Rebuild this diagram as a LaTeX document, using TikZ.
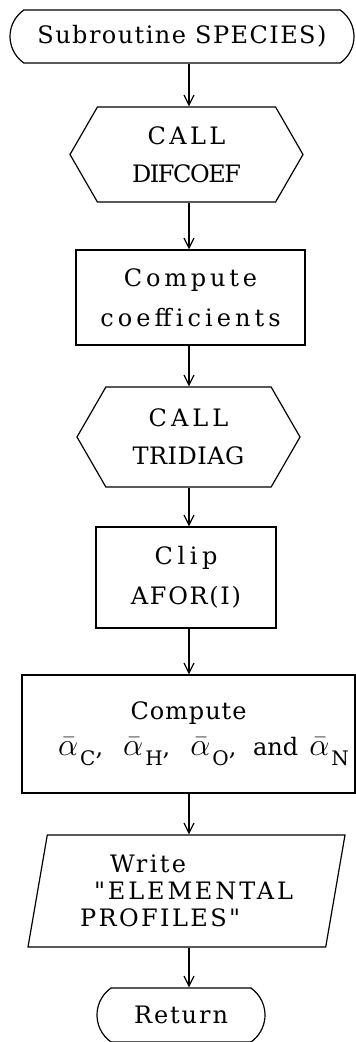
\RequirePackage{fix-cm}
\documentclass[tikz,border=0pt]{standalone}
\usepackage{fontspec}
\setmainfont{DejaVu Serif}[Ligatures=TeXOff]
\usetikzlibrary{shapes.misc, shapes.symbols, shapes.geometric, arrows.meta}
% letter spaced text, as the typist's line
\newcommand{\tracked}[2]{{\addfontfeature{LetterSpace=#1}#2}}
% barred alpha with a big subscript
\newcommand{\asub}[1]{{\fontsize{32}{32}\selectfont$\bar{\alpha}$}%
  \kern2pt\raisebox{-10pt}{\fontsize{20}{20}\selectfont #1}}
\tikzset{
  font=\fontsize{24}{40}\selectfont,
  % Set arrowhead
  >={Straight Barb[length=10pt, width=10pt]},
  % Flow lines
  flow/.style={->, line width=1.2pt},
  % Start and end
  term/.style={draw, line width=1.2pt, shape=rounded rectangle,
    rounded rectangle arc length=110, inner sep=0pt},
  % Subroutine call
  call/.style={draw, line width=1.2pt, shape=signal,
    signal to=east and west, signal pointer angle=120, inner sep=0pt,
    align=center, font=\fontsize{24}{38}\selectfont},
  % Process box
  proc/.style={draw, line width=1.2pt, shape=rectangle, inner sep=0pt,
    align=center},
  % Output
  io/.style={draw, line width=1.2pt, shape=trapezium,
    trapezium left angle=75, trapezium right angle=105,
    trapezium stretches body, inner sep=0pt, align=left},
}
\begin{document}
\begin{tikzpicture}
  \useasboundingbox (0,0) rectangle (356pt,-1042pt);

  % line of the flow arrows
  \coordinate (axis) at (189pt,0);

  \node[term, minimum width=344pt, minimum height=53pt] (start)
  at (182pt,-36.5pt) {\tracked{6}{Subroutine SPECIES)}};
  \node[call, minimum width=233pt, minimum height=95pt] (difcoef)
  at (186.5pt,-154.5pt) {\tracked{14}{CALL}\\\tracked{-6}{DIFCOEF}};
  \node[proc, minimum width=229pt, minimum height=95pt] (coef)
  at (190.5pt,-297.5pt) {\tracked{16}{Compute}\\\tracked{17}{coefficients}};
  \node[call, minimum width=223pt, minimum height=100pt] (tridiag)
  at (188.5pt,-437pt) {\tracked{17}{CALL}\\\tracked{2}{TRIDIAG}};
  \node[proc, minimum width=180pt, minimum height=101pt] (clip)
  at (186pt,-577.5pt) {\tracked{19}{Clip}\\\tracked{7}{AFOR(I)}};
  \node[proc, minimum width=333pt, minimum height=118pt] (alpha)
  at (188.5pt,-734pt) {\tracked{4}{Compute}\\[-4pt]
    \hspace*{30pt}\asub{C},\hspace{20pt}\asub{H},\hspace{20pt}\asub{O},
    \hspace{9pt}and\hspace{11pt}\asub{N}};
  \node[io, minimum width=317pt, minimum height=112pt,
  font=\fontsize{24}{27}\selectfont] (write)
  at (186.5pt,-891pt)
  {\hspace*{30pt}\tracked{10}{Write}\\
    \hspace*{14pt}\tracked{12}{"ELEMENTAL}\\\tracked{10}{PROFILES"}};
  \node[term, minimum width=168pt, minimum height=54pt] (return)
  at (181pt,-1015pt) {\tracked{8}{Return}};

  \draw[flow] (start.south -| axis) -- (difcoef.north -| axis);
  \draw[flow] (difcoef.south -| axis) -- (coef.north -| axis);
  \draw[flow] (coef.south -| axis) -- (tridiag.north -| axis);
  \draw[flow] (tridiag.south -| axis) -- (clip.north -| axis);
  \draw[flow] (clip.south -| axis) -- (alpha.north -| axis);
  \draw[flow] (alpha.south -| axis) -- (write.north -| axis);
  \draw[flow] (write.south -| axis) -- (return.north -| axis);
\end{tikzpicture}
\end{document}
